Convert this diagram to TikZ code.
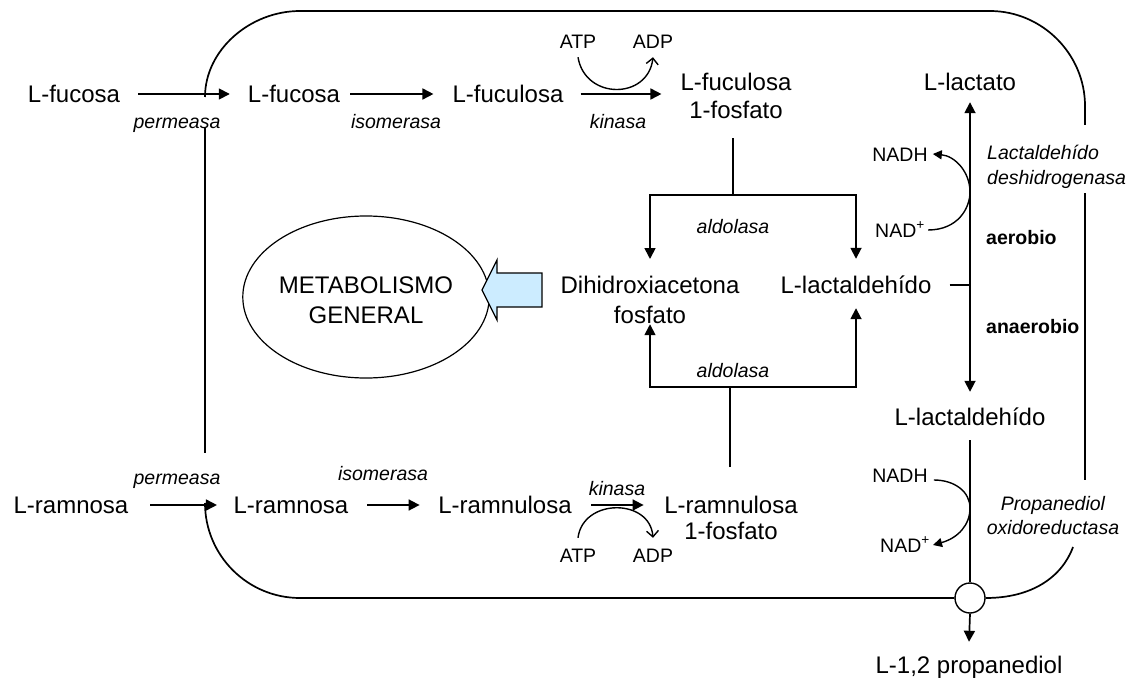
\documentclass[tikz,border=0pt]{standalone}
\usepackage{fontspec}
\setmainfont{Liberation Sans}
\usetikzlibrary{arrows.meta,shapes.geometric}
\definecolor{fatblue}{RGB}{204,236,255}
\begin{document}
\begin{tikzpicture}[x=1pt,y=-1pt,
  big/.style={inner sep=0pt,font=\fontsize{24}{28}\selectfont,text height=17pt,text depth=0pt},
  bigml/.style={inner sep=0pt,align=center,anchor=north},
  small/.style={inner sep=0pt,font=\fontsize{19.5}{24}\selectfont,text height=14pt,text depth=0pt},
  enzyme/.style={small,font=\fontsize{19.5}{24}\selectfont\itshape},
  cond/.style={small,font=\fontsize{19.5}{24}\selectfont\bfseries,anchor=west},
  line/.style={line width=1.7pt},
  arr/.style={line width=1.7pt,-{Triangle[length=11pt,width=11pt]}},
  cof/.style={line width=1.4pt,-{Straight Barb[length=6pt,width=12pt]}},
  cofs/.style={line width=1.4pt,-{Triangle[length=9pt,width=9pt]}},
  mem/.style={line width=1.7pt}]
\useasboundingbox (0,0) rectangle (1131,679);

% ---- fucose branch ----
\node[big] (fucO)  at (74,94)  {L-fucosa};
\node[big] (fucI)  at (294,94) {L-fucosa};
\node[big] (fucul) at (508,94) {L-fuculosa};
\node[bigml,font=\fontsize{24}{28}\selectfont] (fuc1P) at (736,71.6) {\rule{0pt}{19pt}L-fuculosa\\1-fosfato};
\node[enzyme] (perm1) at (177,122) {permeasa};
\node[enzyme] (iso1)  at (396,122) {isomerasa};
\node[enzyme] (kin1)  at (618,122) {kinasa};
\node[small] (ATP1) at (578,42) {ATP};
\node[small] (ADP1) at (653,42) {ADP};

% ---- rhamnose branch ----
\node[big] (ramO)  at (71,505)  {L-ramnosa};
\node[big] (ramI)  at (291,505) {L-ramnosa};
\node[big] (ramul) at (505,505) {L-ramnulosa};
\node[bigml,font=\fontsize{24}{26}\selectfont] (ram1P) at (731,494.6) {\rule{0pt}{19pt}L-ramnulosa\\1-fosfato};
\node[enzyme] (perm2) at (177,477) {permeasa};
\node[enzyme] (iso2)  at (383,473) {isomerasa};
\node[enzyme] (kin2)  at (617,488) {kinasa};
\node[small] (ATP2) at (578,555) {ATP};
\node[small] (ADP2) at (653,555) {ADP};

% ---- aldolase products ----
\node[bigml,font=\fontsize{24}{30}\selectfont] (DHAP) at (650,274.6) {\rule{0pt}{19pt}Dihidroxiacetona\\fosfato};
\node[big] (lald) at (856,285) {L-lactaldehído};
\node[enzyme] (ald1) at (733,226) {aldolasa};
\node[enzyme] (ald2) at (733,370) {aldolasa};
\node[draw,ellipse,line width=1.2pt,minimum width=206pt,minimum height=162pt,inner sep=0pt,
      align=center,font=\fontsize{24}{30}\selectfont] (metab) at (366,297)
      {\rule{0pt}{23pt}METABOLISMO\\GENERAL};

% ---- lactaldehyde fate ----
\node[big] (lactato) at (970,82)  {L-lactato};
\node[big] (lald2)   at (970,417) {L-lactaldehído};
\node[big] (prop)    at (969,665) {L-1,2 propanediol};
\node[small] (NADH1) at (900,154) {NADH};
\node[small] (NAD1)  at (900,230) {NAD\textsuperscript{+}};
\node[small] (NADH2) at (900,475) {NADH};
\node[small] (NAD2)  at (905,545) {NAD\textsuperscript{+}};
\node[inner sep=0pt,align=left,anchor=north west,font=\fontsize{19.5}{25}\selectfont\itshape] (ldh)
      at (987,143) {\rule{0pt}{16pt}Lactaldehído\\deshidrogenasa};
\node[inner sep=0pt,align=center,anchor=north,font=\fontsize{19.5}{24}\selectfont\itshape] (podr)
      at (1053,494) {\rule{0pt}{16pt}Propanediol\\oxidoreductasa};
\node[cond] (aer)   at (986,237) {aerobio};
\node[cond] (anaer) at (986,326) {anaerobio};

\node[draw,circle,fill=white,line width=1.4pt,minimum size=30pt,inner sep=0pt] (pore) at (970,598) {};

% ---- cell membrane ----
\draw[mem] (205,97) .. controls (205,50) and (250,11) .. (300,11) -- (990,11)
   .. controls (1042,11) and (1085,54) .. (1085,106) -- (1085,125);
\draw[mem] (1085,193) -- (1085,480);
\draw[mem] (1073,547) .. controls (1062,577) and (1032,598) .. (pore.east);
\draw[mem] (pore.west) -- (300,598) .. controls (247.5,598) and (205,555.5) .. (205,503);
\draw[mem] (205,128) -- (205,453);

% ---- fucose reactions ----
\draw[arr] ([xshift=18pt]fucO.east) -- ([xshift=-18pt]fucI.west);
\draw[arr] ([xshift=10pt]fucI.east) -- ([xshift=-19pt]fucul.west);
\draw[arr] ([xshift=17pt]fucul.east) -- ([xshift=-19pt]fucul.east -| fuc1P.west);
\draw[cof] ([yshift=-8pt]ATP1.south) .. controls (585,100) and (648,100) .. ([yshift=-8pt]ADP1.south);

% ---- rhamnose reactions ----
\draw[arr] ([xshift=21.5pt]ramO.east) -- ([xshift=-16.5pt]ramI.west);
\draw[arr] ([xshift=18.5pt]ramI.east) -- ([xshift=-18.5pt]ramul.west);
\draw[arr] ([xshift=19.5pt]ramul.east) -- ([xshift=-20.5pt]ramul.east -| ram1P.west);
\draw[cof] ([yshift=10pt]ATP2.north) .. controls (583,498) and (650,498) .. ([yshift=10pt]ADP2.north);

% ---- aldolase splits ----
\coordinate (split1) at (733,195);
\coordinate (split2) at (730,387);
\draw[line] ([yshift=-19pt]split1 |- fuc1P.south) -- (split1);
\draw[arr] (split1) -| ([yshift=15.6pt]DHAP.north);
\draw[arr] (split1) -| ([yshift=17.5pt]lald.north);
\draw[line] ([yshift=27.6pt]split2 |- ram1P.north) -- (split2);
\draw[arr] (split2) -| (DHAP.south);
\draw[arr] (split2) -| ([yshift=-14.5pt]lald.south);

% ---- to general metabolism ----
\fill[fatblue,draw=black,line width=1.2pt,line join=miter]
  (542,273) -- (497,273) -- (497,260) -- (482,290) -- (497,320) -- (497,307) -- (542,307) -- cycle;

% ---- aerobic / anaerobic fate ----
\coordinate (branch) at (970,285);
\draw[line] ([xshift=18pt]lald.east) -- (branch);
\draw[arr] (branch) -- ([yshift=-11.5pt]lactato.south);
\draw[arr] (branch) -- ([yshift=16.5pt]lald2.north);
\draw[line] ([yshift=-14.5pt]lald2.south) -- (pore.north);
\draw[arr] (pore.south) -- ([yshift=14.5pt]prop.north);
\draw[cofs] ([xshift=3pt]NAD1.east) .. controls (958,230) and (970,208) .. (970,192)
   .. controls (970,172) and (955,156) .. ([xshift=5pt]NADH1.east);
\draw[cofs] ([xshift=6pt,yshift=-5pt]NADH2.east) .. controls (955,480) and (970,492) .. (970,508)
   .. controls (970,525) and (958,538) .. ([xshift=3pt]NAD2.east);
\end{tikzpicture}
\end{document}
